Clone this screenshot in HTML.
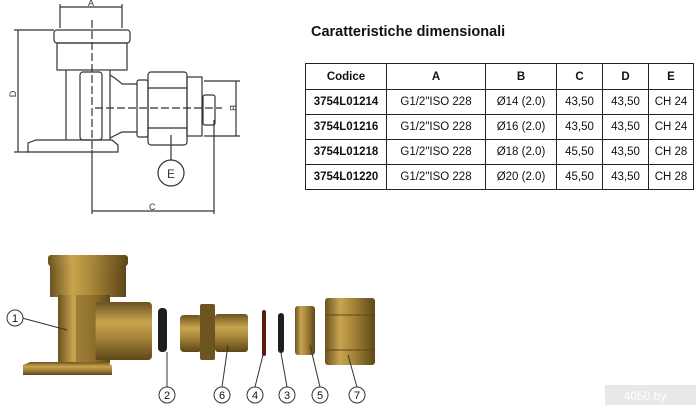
<!DOCTYPE html>
<html><head><meta charset="utf-8"><style>
html,body{margin:0;padding:0;background:#fff;}
body{width:696px;height:408px;position:relative;overflow:hidden;font-family:"Liberation Sans",Arial,sans-serif;}
.t{position:absolute;left:311px;top:24px;font-size:14.5px;font-weight:bold;color:#111;}
table{position:absolute;left:305px;top:63px;border-collapse:collapse;font-size:11.5px;color:#111;}
td{border:1px solid #222;text-align:center;padding:0;height:24px;}
td.b{font-weight:bold;}
</style></head><body>
<svg width="696" height="408" style="position:absolute;left:0;top:0" xmlns="http://www.w3.org/2000/svg">
<defs>
<linearGradient id="br" x1="0" y1="0" x2="1" y2="0"><stop offset="0" stop-color="#6b5320"/><stop offset=".3" stop-color="#c9a550"/><stop offset=".55" stop-color="#a8863a"/><stop offset="1" stop-color="#5e4718"/></linearGradient>
<linearGradient id="bv" x1="0" y1="0" x2="0" y2="1"><stop offset="0" stop-color="#6b5320"/><stop offset=".35" stop-color="#c9a550"/><stop offset=".6" stop-color="#a8863a"/><stop offset="1" stop-color="#5e4718"/></linearGradient>
</defs>
<g stroke="#333" stroke-width="1.2" fill="none">
<line x1="60" y1="7" x2="122" y2="7"/><line x1="60" y1="4" x2="60" y2="28"/><line x1="122" y1="4" x2="122" y2="28"/>
<line x1="18" y1="30" x2="18" y2="152"/><line x1="14" y1="30" x2="54" y2="30"/><line x1="14" y1="152" x2="30" y2="152"/>
<line x1="236" y1="81" x2="236" y2="136"/><line x1="204" y1="81" x2="240" y2="81"/><line x1="204" y1="136" x2="240" y2="136"/>
<line x1="92" y1="211" x2="214" y2="211"/><line x1="92" y1="150" x2="92" y2="214"/><line x1="214" y1="120" x2="214" y2="214"/>
<line x1="92" y1="20" x2="92" y2="150" stroke-dasharray="8,3"/>
<line x1="95" y1="108" x2="222" y2="108" stroke-dasharray="8,3"/>
<rect x="54" y="30" width="76" height="13" rx="3"/><rect x="57" y="43" width="70" height="27"/>
<path d="M66 70 V140 M110 70 V140"/><rect x="80" y="72" width="22" height="68" rx="3"/>
<path d="M28 152 V143 L36 140 H112 L118 145 V152 Z"/>
<path d="M110 75 Q118 80 122 84 L137 84 M110 138 Q118 134 122 132 L137 132"/>
<rect x="137" y="80" width="11" height="57" rx="2"/>
<rect x="148" y="72" width="39" height="73" rx="3"/><path d="M148 88 H187 M148 128 H187"/>
<rect x="187" y="77" width="15" height="59"/><rect x="203" y="95" width="12" height="30" rx="2"/>
<circle cx="171" cy="173" r="13"/><line x1="171" y1="135" x2="171" y2="160"/>
</g>
<g font-size="9" fill="#333" font-family="Liberation Sans,sans-serif">
<text x="88" y="6">A</text><text x="149" y="210">C</text>
<text x="16" y="94" transform="rotate(-90 16 94)" text-anchor="middle">D</text>
<text x="230" y="108" transform="rotate(90 230 108)" text-anchor="middle">B</text>
<text x="171" y="178" font-size="12" text-anchor="middle">E</text>
</g>
<rect x="48" y="255" width="80" height="11" rx="3" fill="url(#br)"/>
<rect x="50" y="265" width="76" height="32" fill="url(#br)"/>
<rect x="58" y="295" width="52" height="68" fill="url(#br)"/>
<rect x="95" y="302" width="40" height="58" fill="url(#bv)"/>
<rect x="127" y="302" width="25" height="58" rx="4" fill="url(#bv)"/>
<path d="M23 375 V365 L30 362 H108 L112 366 V375 Z" fill="url(#bv)"/>
<rect x="76" y="295" width="20" height="68" fill="#8a6c2c" opacity=".6"/>
<rect x="158" y="308" width="9" height="44" rx="4" fill="#1e1e1e"/>
<rect x="180" y="315" width="22" height="37" rx="4" fill="url(#bv)"/>
<rect x="200" y="304" width="15" height="56" rx="2" fill="#6d5522"/>
<rect x="215" y="314" width="33" height="38" rx="3" fill="url(#bv)"/>
<rect x="262" y="310" width="4" height="46" rx="2" fill="#5a1a10"/>
<rect x="278" y="313" width="6" height="40" rx="3" fill="#1e1e1e"/>
<rect x="295" y="306" width="20" height="49" rx="3" fill="url(#br)"/>
<rect x="325" y="298" width="50" height="67" rx="3" fill="url(#br)"/>
<path d="M325 315 H375 M325 350 H375" stroke="#5e4718"/>
<g stroke="#333" fill="#fff" stroke-width="1">
<line x1="22" y1="318" x2="67" y2="330"/><line x1="167" y1="352" x2="167" y2="387"/><line x1="228" y1="345" x2="222" y2="387"/>
<line x1="263" y1="355" x2="255" y2="387"/><line x1="281" y1="353" x2="287" y2="387"/><line x1="310" y1="345" x2="320" y2="387"/><line x1="348" y1="355" x2="357" y2="387"/>
<circle cx="15" cy="318" r="8"/><circle cx="167" cy="395" r="8"/><circle cx="222" cy="395" r="8"/><circle cx="255" cy="395" r="8"/><circle cx="287" cy="395" r="8"/><circle cx="320" cy="395" r="8"/><circle cx="357" cy="395" r="8"/>
</g>
<g font-size="11" fill="#111" text-anchor="middle" font-family="Liberation Sans,sans-serif">
<text x="15" y="322">1</text><text x="167" y="399">2</text><text x="222" y="399">6</text><text x="255" y="399">4</text><text x="287" y="399">3</text><text x="320" y="399">5</text><text x="357" y="399">7</text>
</g>
<rect x="605" y="385" width="91" height="20" fill="#d8d8d8" opacity=".6"/>
<text x="645" y="400" font-size="12" fill="#fff" text-anchor="middle" font-family="Liberation Sans,sans-serif">4050.by</text>
</svg>
<div class="t">Caratteristiche dimensionali</div>
<table>
<tr><td class="b" style="width:80px;height:25px">Codice</td><td class="b" style="width:98px">A</td><td class="b" style="width:70px">B</td><td class="b" style="width:45px">C</td><td class="b" style="width:45px">D</td><td class="b" style="width:44px">E</td></tr>
<tr><td class="b">3754L01214</td><td>G1/2"ISO 228</td><td>Ø14 (2.0)</td><td>43,50</td><td>43,50</td><td>CH 24</td></tr>
<tr><td class="b">3754L01216</td><td>G1/2"ISO 228</td><td>Ø16 (2.0)</td><td>43,50</td><td>43,50</td><td>CH 24</td></tr>
<tr><td class="b">3754L01218</td><td>G1/2"ISO 228</td><td>Ø18 (2.0)</td><td>45,50</td><td>43,50</td><td>CH 28</td></tr>
<tr><td class="b">3754L01220</td><td>G1/2"ISO 228</td><td>Ø20 (2.0)</td><td>45,50</td><td>43,50</td><td>CH 28</td></tr>
</table>
</body></html>
